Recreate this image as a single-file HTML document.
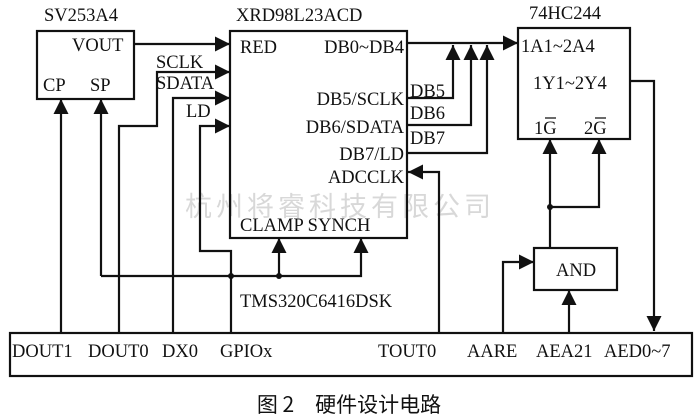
<!DOCTYPE html>
<html><head><meta charset="utf-8"><style>
body{margin:0;background:#fff}
svg{display:block}
text{font-family:"Liberation Serif","Noto Serif CJK SC",serif;font-size:18.5px;fill:#111}
</style></head><body>
<svg width="698" height="419" viewBox="0 0 698 419" xmlns="http://www.w3.org/2000/svg">
<defs>
<marker id="a" viewBox="0 0 10 10" refX="10" refY="5" markerWidth="15" markerHeight="15" markerUnits="userSpaceOnUse" orient="auto"><path d="M0,0L10,5L0,10z" fill="#111"/></marker>
</defs>
<text x="185" y="216" style="font-family:'Noto Sans CJK SC',sans-serif;font-size:27px;fill:#d8d8d8;letter-spacing:4px">杭州将睿科技有限公司</text>
<g fill="none" stroke="#111" stroke-width="2.2">
<rect x="37" y="31" width="97" height="68"/>
<rect x="230" y="31" width="177" height="207"/>
<rect x="518" y="28" width="112" height="111"/>
<rect x="534" y="248" width="83" height="42"/>
<rect x="10" y="333" width="682" height="43"/>
<g marker-end="url(#a)">
<path d="M134,44H230"/>
<path d="M119,333V126H157V72H230"/>
<path d="M173,333V98H230"/>
<path d="M231,333V251H200V126H230"/>
<path d="M61,333V99"/>
<path d="M101,276V99"/>
<path d="M279,276V238"/>
<path d="M101,276H361V238"/>
<path d="M407,43H518"/>
<path d="M407,98H453V45"/>
<path d="M407,125H471V45"/>
<path d="M407,153H487V45"/>
<path d="M630,81H654V331"/>
<path d="M439,333V172H408"/>
<path d="M550,248V139"/>
<path d="M550,207H599V139"/>
<path d="M503,333V262H534"/>
<path d="M569,333V290"/>
</g>
</g>
<g fill="#111"><circle cx="231" cy="276" r="3"/><circle cx="279" cy="276" r="3"/><circle cx="550" cy="207" r="3"/></g>
<text x="44" y="21">SV253A4</text>
<text x="236" y="21">XRD98L23ACD</text>
<text x="529" y="19">74HC244</text>
<text x="72" y="51">VOUT</text>
<text x="43" y="91">CP</text>
<text x="90" y="91">SP</text>
<text x="156" y="68">SCLK</text>
<text x="156" y="89">SDATA</text>
<text x="186" y="117">LD</text>
<text x="240" y="53">RED</text>
<text x="404" y="53" text-anchor="end">DB0~DB4</text>
<text x="404" y="105" text-anchor="end">DB5/SCLK</text>
<text x="404" y="133" text-anchor="end">DB6/SDATA</text>
<text x="404" y="160" text-anchor="end">DB7/LD</text>
<text x="404" y="183" text-anchor="end">ADCCLK</text>
<text x="240" y="231">CLAMP SYNCH</text>
<text x="410" y="97">DB5</text>
<text x="410" y="119">DB6</text>
<text x="410" y="144">DB7</text>
<text x="521" y="52">1A1~2A4</text>
<text x="533" y="89">1Y1~2Y4</text>
<text x="534" y="134">1G</text>
<text x="584" y="134">2G</text>
<path d="M545,118h11M595,118h11" stroke="#111" stroke-width="1.3"/>
<text x="556" y="276">AND</text>
<text x="240" y="307">TMS320C6416DSK</text>
<text x="12" y="357">DOUT1</text>
<text x="88" y="357">DOUT0</text>
<text x="162" y="357">DX0</text>
<text x="220" y="357">GPIOx</text>
<text x="378" y="357">TOUT0</text>
<text x="467" y="357">AARE</text>
<text x="536" y="357">AEA21</text>
<text x="604" y="357">AED0~7</text>
<text x="349" y="412" text-anchor="middle" style="font-family:'Noto Sans CJK SC',sans-serif;font-size:21px">图 2　硬件设计电路</text>
</svg>
</body></html>
